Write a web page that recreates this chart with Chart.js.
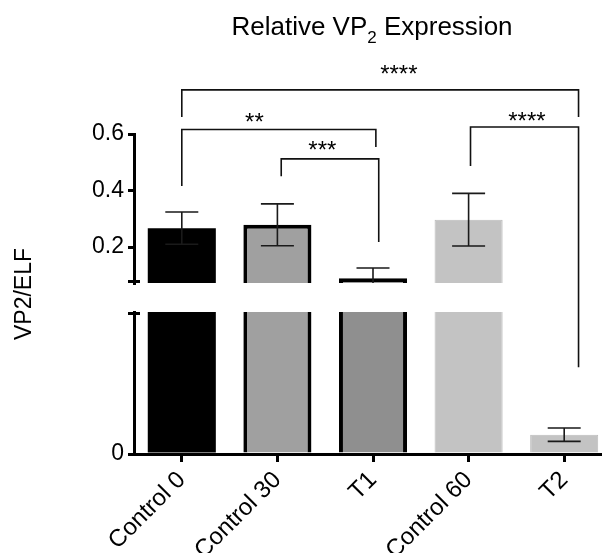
<!DOCTYPE html>
<html><head><meta charset="utf-8">
<script src="https://cdn.jsdelivr.net/npm/chart.js@4/dist/chart.umd.min.js"></script>
<style>
html,body{margin:0;padding:0;overflow:hidden;background:#fff;width:602px;height:553px}
#wrap{width:612px;height:553px}
</style>
</head><body><div id="wrap"><canvas id="c" width="612" height="553"></canvas></div>
<script>
// ---- data ----
const categories = ['Control 0', 'Control 30', 'T1', 'Control 60', 'T2'];
const means  = [0.267, 0.279, 0.090, 0.297, 0.0095];
const errors = [0.057, 0.074, 0.036, 0.093, 0.0033];
const upperTicks = [0.2, 0.4, 0.6];
const lowerTicks = [0];
const upperRange = [0.073, 0.6];
const lowerRange = [0, 0.07];
const yTitle = 'VP2/ELF';
const titleMain = 'Relative VP';
const titleSub = '2';
const titleRest = ' Expression';
// significance brackets (category positions, heights in upper-axis units)
const bracketLabels = ['****', '**', '***', '****'];
const bracketFrom   = [0, 0, 1.04, 3.02];
const bracketTo     = [4.15, 2.03, 2.06, 4.15];
const bracketLine   = [0.756, 0.616, 0.512, 0.625];
const bracketFromEnd= [0.66, 0.416, 0.451, 0.487];
const bracketToEnd  = [0.66, 0.554, 0.218, -0.225];
const bracketLabelAt= [2.27, 0.76, 1.47, 3.61];
const bracketLabelY = [0.784, 0.614, 0.515, 0.619];

// ---- styles ----
const fillColors = ['#000000', '#a0a0a0', '#8f8f8f', '#c3c3c3', '#c3c3c3'];
const edgeColors = ['#000000', '#000000', '#000000', '#bababa', '#bababa'];
const edgeWidths = [0, 4, 4, 1, 1];
const FONT = "'Liberation Sans', Arial, Helvetica, sans-serif";
Chart.defaults.font.family = FONT;
Chart.defaults.color = '#000';

const segmentPlugin = {
  id: 'segmentClip',
  beforeDatasetDraw(chart, args) {
    const ys = chart.scales[args.meta.yAxisID];
    const a = chart.chartArea, ctx = chart.ctx;
    ctx.save();
    ctx.beginPath();
    ctx.rect(a.left, ys.top, a.right - a.left, ys.bottom - ys.top);
    ctx.clip();
  },
  afterDatasetDraw(chart, args) {
    const ctx = chart.ctx, meta = args.meta;
    const ys = chart.scales[meta.yAxisID];
    const ds = chart.data.datasets[args.index];
    ctx.strokeStyle = '#1a1a1a';
    ctx.lineWidth = 1.6;
    meta.data.forEach((bar, i) => {
      const v = ds.data[i], e = ds.errors[i], x = bar.x;
      if (v < ys.min || v > ys.max) return; // error bar belongs to the segment holding the mean
      const yt = ys.getPixelForValue(v + e), yb = ys.getPixelForValue(v - e);
      ctx.beginPath();
      ctx.moveTo(x, yt); ctx.lineTo(x, yb);
      ctx.moveTo(x - 16.5, yt); ctx.lineTo(x + 16.5, yt);
      ctx.moveTo(x - 16.5, yb); ctx.lineTo(x + 16.5, yb);
      ctx.stroke();
    });
    ctx.restore();
  }
};

const decorPlugin = {
  id: 'decor',
  afterDraw(chart) {
    const ctx = chart.ctx, a = chart.chartArea;
    const xs = chart.scales.x, yh = chart.scales.yHigh, yl = chart.scales.yLow;
    ctx.save();
    // axis break caps
    ctx.strokeStyle = '#000'; ctx.lineWidth = 3;
    ctx.beginPath();
    ctx.moveTo(a.left - 6, yh.bottom - 1.5); ctx.lineTo(a.left + 6, yh.bottom - 1.5);
    ctx.moveTo(a.left - 6, yl.top + 1.5); ctx.lineTo(a.left + 6, yl.top + 1.5);
    ctx.stroke();
    // brackets
    ctx.strokeStyle = '#111'; ctx.lineWidth = 1.6;
    ctx.fillStyle = '#000';
    ctx.font = '24px ' + FONT;
    ctx.textAlign = 'center'; ctx.textBaseline = 'alphabetic';
    bracketLabels.forEach((lab, i) => {
      const x1 = xs.getPixelForValue(bracketFrom[i]);
      const x2 = xs.getPixelForValue(bracketTo[i]);
      const yLine = yh.getPixelForValue(bracketLine[i]);
      ctx.beginPath();
      ctx.moveTo(x1, yh.getPixelForValue(bracketFromEnd[i]));
      ctx.lineTo(x1, yLine); ctx.lineTo(x2, yLine);
      ctx.lineTo(x2, yh.getPixelForValue(bracketToEnd[i]));
      ctx.stroke();
      ctx.fillText(lab, xs.getPixelForValue(bracketLabelAt[i]), yh.getPixelForValue(bracketLabelY[i]));
    });
    // title with subscript
    const big = '26px ' + FONT, small = '17px ' + FONT;
    ctx.font = big; const w1 = ctx.measureText(titleMain).width, w3 = ctx.measureText(titleRest).width;
    ctx.font = small; const w2 = ctx.measureText(titleSub).width;
    const total = w1 + w2 + w3;
    let x0 = (a.left + a.right) / 2 - 1 - total / 2;
    ctx.textAlign = 'left';
    ctx.font = big; ctx.fillText(titleMain, x0, 35);
    ctx.font = small; ctx.fillText(titleSub, x0 + w1, 43);
    ctx.font = big; ctx.fillText(titleRest, x0 + w1 + w2, 35);
    // y title
    ctx.translate(25, (a.top + a.bottom) / 2);
    ctx.rotate(-Math.PI / 2);
    ctx.textAlign = 'center'; ctx.textBaseline = 'middle';
    ctx.font = '23px ' + FONT;
    ctx.fillText(yTitle, 0, 0);
    ctx.restore();
  }
};

const tickGrid = { drawOnChartArea: false, tickLength: 6, tickWidth: 3, tickColor: '#000', lineWidth: 3, color: '#000' };
const axisBorder = { display: true, width: 3, color: '#000' };

const barCommon = {
  backgroundColor: fillColors,
  borderColor: edgeColors,
  borderWidth: edgeWidths,
  borderSkipped: 'start',
  grouped: false,
  categoryPercentage: 1,
  barPercentage: 0.712
};

new Chart(document.getElementById('c'), {
  type: 'bar',
  data: {
    labels: categories,
    datasets: [
      Object.assign({ label: 'upper', data: means, errors: errors, yAxisID: 'yHigh' }, barCommon),
      Object.assign({ label: 'lower', data: means, errors: errors, yAxisID: 'yLow' }, barCommon)
    ]
  },
  options: {
    responsive: false,
    animation: false,
    devicePixelRatio: 1,
    layout: { padding: { top: 134, left: 0, right: 0, bottom: 0 } },
    plugins: { legend: { display: false }, tooltip: { enabled: false }, title: { display: false } },
    scales: {
      x: {
        z: 1,
        offset: true,
        grid: { display: true, offset: false, drawOnChartArea: false, tickLength: 8, tickWidth: 3, tickColor: '#000', lineWidth: 3, color: '#000' },
        border: axisBorder,
        ticks: { autoSkip: false, maxRotation: 45, minRotation: 45, padding: 4, color: '#000', font: { size: 24 } },
        afterFit: s => { s.height = 99; }
      },
      yHigh: {
        type: 'linear', position: 'left', stack: 'ybreak', stackWeight: 149, weight: 3,
        min: upperRange[0], max: upperRange[1],
        afterBuildTicks: s => { s.ticks = upperTicks.map(v => ({ value: v })); },
        ticks: { color: '#000', padding: 4, font: { size: 23 }, callback: v => Number(v).toFixed(1) },
        grid: tickGrid, border: axisBorder,
        afterFit: s => { s.width = 134; }
      },
      yGap: {
        type: 'linear', position: 'left', stack: 'ybreak', stackWeight: 29, weight: 2,
        min: 0, max: 1,
        ticks: { display: false }, grid: { display: false }, border: { display: false },
        afterFit: s => { s.width = 134; }
      },
      yLow: {
        type: 'linear', position: 'left', stack: 'ybreak', stackWeight: 142, weight: 1, z: 1,
        min: lowerRange[0], max: lowerRange[1],
        afterBuildTicks: s => { s.ticks = lowerTicks.map(v => ({ value: v })); },
        ticks: { color: '#000', padding: 4, font: { size: 23 }, callback: v => String(v) },
        grid: tickGrid, border: axisBorder,
        afterFit: s => { s.width = 134; }
      }
    }
  },
  plugins: [segmentPlugin, decorPlugin]
});
</script>
</body></html>
